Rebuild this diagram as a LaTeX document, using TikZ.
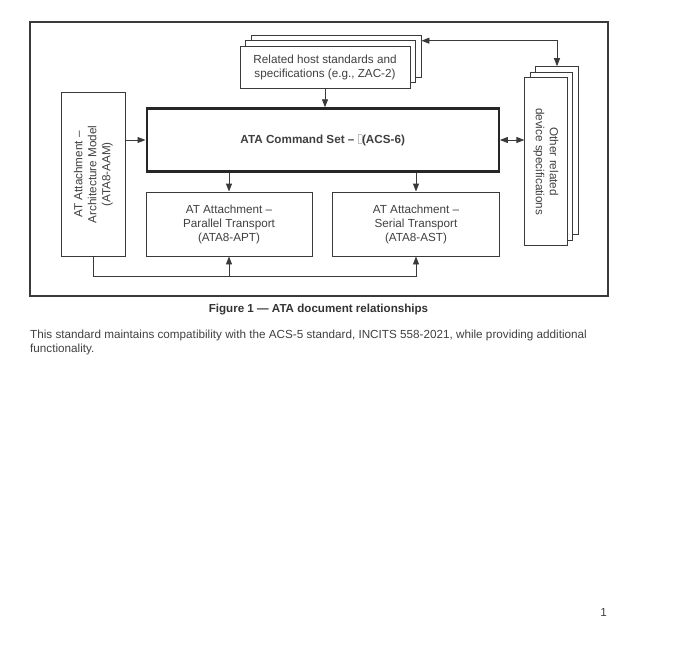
\documentclass[tikz,border=0pt]{standalone}
\usepackage{fontspec}
\setmainfont{Liberation Sans}
\usetikzlibrary{arrows.meta}
\definecolor{linec}{HTML}{3A3A3A}
\definecolor{txtc}{HTML}{404040}
\begin{document}
\begin{tikzpicture}[x=1pt,y=-1pt,
  every node/.style={font=\fontsize{11.7}{14}\selectfont, text=txtc},
  box/.style={draw=linec, fill=white, line width=0.9pt, align=center, inner sep=0pt},
  arr/.style={draw=linec, line width=0.9pt, -{Triangle[length=8pt,width=6pt]}},
  darr/.style={draw=linec, line width=0.9pt, {Triangle[length=8pt,width=6pt]}-{Triangle[length=8pt,width=6pt]}},
  ln/.style={draw=linec, line width=0.9pt}]
\useasboundingbox (0,0) rectangle (680,650);
% outer frame
\draw[linec, line width=1.4pt] (30,22) rectangle (608,296);
% host stack
\node[box, minimum width=170pt, minimum height=42pt] (hostb3) at (336,56) {};
\node[box, minimum width=170pt, minimum height=42pt] (hostb2) at (330.5,61.5) {};
\node[box, minimum width=170pt, minimum height=42pt] (host) at (325,67) {Related host standards and\\specifications (e.g., ZAC-2)};
% main
\node[box, draw=black!85, line width=2.4pt, minimum width=352pt, minimum height=63pt] (main) at (322.7,140)
  {\bfseries ATA Command Set -- {\color{gray!50}\setlength{\fboxsep}{0pt}\setlength{\fboxrule}{0.4pt}\fbox{\phantom{\rule{3.5pt}{8.5pt}}}}(ACS-6)};
% left
\node[box, minimum width=63.5pt, minimum height=163.3pt] (left) at (93.3,174.4) {};
\node[rotate=90, align=center] (lefttxt) at (left.center) {AT Attachment --\\Architecture Model\\(ATA8-AAM)};
% parallel / serial
\node[box, minimum width=166pt, minimum height=64pt] (par) at (229,224) {AT Attachment --\\Parallel Transport\\(ATA8-APT)};
\node[box, minimum width=167pt, minimum height=64pt] (ser) at (416,224) {AT Attachment --\\Serial Transport\\(ATA8-AST)};
% right stack
\node[box, minimum width=42.3pt, minimum height=168pt] (rightb3) at (557,150.7) {};
\node[box, minimum width=42.3pt, minimum height=168pt] (rightb2) at (551.5,156.2) {};
\node[box, minimum width=42.3pt, minimum height=168pt] (right) at (546,161.7) {};
\node[rotate=-90, align=center] (righttxt) at (right.center) {Other related\\device specifications};
% connectors
\draw[arr] (host.south) -- (host.south |- main.north);
\draw[arr] (left.east |- main.west) -- (main.west);
\draw[arr] (main.south -| par.north) -- (par.north);
\draw[arr] (main.south -| ser.north) -- (ser.north);
\coordinate (bus) at (93.3,276.7);
\draw[ln] (left.south -| bus) -- (bus) -- (bus -| ser.south);
\draw[arr] (bus -| par.south) -- (par.south);
\draw[arr] (bus -| ser.south) -- (ser.south);
\draw[darr] (main.east) -- (main.east -| right.west);
\coordinate (tc) at (rightb3.north |- 0,40.7);
\draw[darr] (hostb3.east |- tc) -| (rightb3.north);
% caption and text
\node[font=\fontsize{11.6}{14}\selectfont\bfseries, text=black!80] (cap) at (318.5,309.5) {Figure 1 --- ATA document relationships};
\node[anchor=north west, align=left, inner sep=0pt] (body) at (30,330) {This standard maintains compatibility with the ACS-5 standard, INCITS 558-2021, while providing additional\\functionality.};
\node (pnum) at (603.5,612) {1};
\end{tikzpicture}
\end{document}
